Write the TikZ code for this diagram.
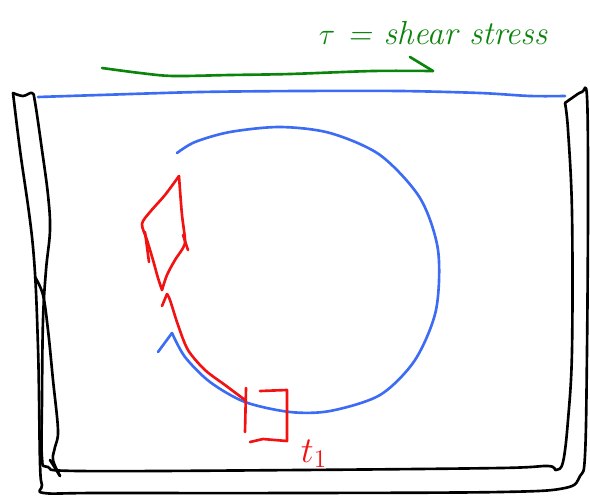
\documentclass[tikz,border=0pt]{standalone}
\usepackage{tikz}
\definecolor{flow}{HTML}{3D6CF4}
\definecolor{trace}{HTML}{F21212}
\definecolor{shear}{HTML}{0B840B}

\begin{document}
\begin{tikzpicture}[x=0.02cm, y=-0.02cm,
  pen/.style={line width=1.5pt, line cap=round, line join=round},
  wall/.style={pen, black},
  fluid/.style={pen, flow},
  part/.style={pen, trace},
  force/.style={pen, shear}]
  \useasboundingbox (0,0) rectangle (590,497);
  % tank walls
  \draw[wall] plot[smooth, tension=0.6] coordinates {(13,93) (23,96) (32,93) (35,102) (42,150) (48,195) (50,230) (46,270) (43,320) (42,400) (42,458) (48,467) (80,471) (300,470) (500,468) (548,466) (556,470) (563,462) (568,420) (572,350) (572,213) (568,130) (565,103)};
  \draw[wall] plot[smooth, tension=0.6] coordinates {(565,103) (572,98) (582,92) (587,97) (588,200) (587,350) (585,455) (580,476) (565,488) (500,492) (300,493) (100,493) (44,493) (42,485) (40,463) (38,347) (33,247) (20,150) (13,93)};
  \draw[wall] plot[smooth, tension=0.6] coordinates {(35,277) (43,295) (48,330) (53,380) (58,430) (55,447) (53,460) (60,476)};
  \draw[wall] (50,460) -- (60,476);
  % free surface
  \draw[fluid] plot[smooth] coordinates {(38,97) (100,95) (200,92) (300,91) (400,91) (480,93) (530,96) (565,96)};
  % shear at the top
  \draw[force] plot[smooth] coordinates {(102,68) (140,73) (173,76) (230,75) (290,74) (373,71) (433,71)};
  \draw[force] (410,57) -- (433,71);
  \node[text=shear, font=\fontsize{19}{23}\selectfont\itshape] (tau) at (433,33) {$\tau$ = shear stress};
  % circulation
  \draw[fluid] plot[smooth] coordinates {(177,153) (195,142) (230,132) (280,127) (330,133) (380,155) (420,198) (438,250) (436,310) (415,360) (380,395) (330,411) (290,412) (245,402) (210,382) (185,357) (172,333)};
  \draw[fluid] (172,333) -- (158,352);
  % fluid element path
  \draw[part] plot[smooth] coordinates {(245,400) (225,385) (205,370) (188,350) (178,325) (170,300) (167,294)};
  \draw[part] (167,294) -- (162,306);
  \draw[part] plot[smooth, tension=0.5] coordinates {(179,176) (165,195) (150,212) (142,224) (147,240) (153,260) (158,278) (162,290)};
  \draw[part] plot[smooth, tension=0.5] coordinates {(162,290) (167,275) (175,260) (183,248) (185,240) (182,215) (180,190) (179,176)};
  \draw[part] (145,232) -- (149,262);
  \draw[part] (183,235) -- (188,250);
  % element at t1
  \draw[part] (246,388) -- (245,432);
  \draw[part] (260,391) -- (287,390) -- (287,441) -- (263,439) -- (250,442);
  \node[text=trace, font=\fontsize{20}{24}\selectfont] (tone) at (314,454) {$t_1$};
\end{tikzpicture}
\end{document}
